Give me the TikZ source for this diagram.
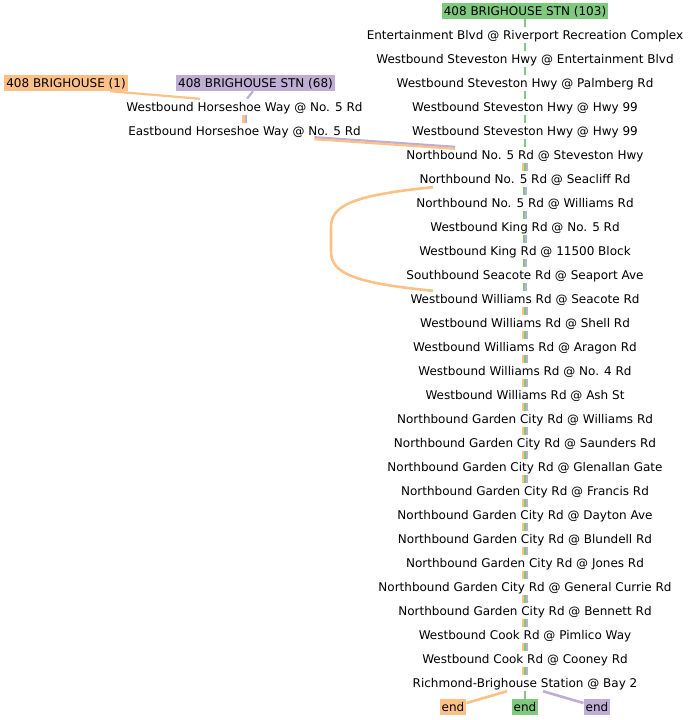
\documentclass[tikz,border=0pt]{standalone}
\usepackage{fontspec}
\setmainfont{DejaVu Sans}
\usepackage{xcolor}
\usepackage{tikz}
\usetikzlibrary{calc, positioning}

\definecolor{cam}{HTML}{FDC086}
\definecolor{xanh}{HTML}{7FC97F}
\definecolor{tim}{HTML}{BEAED4}

\begin{document}
\begin{tikzpicture}[x=1pt, y=-1pt,
    tram/.style={font=\fontsize{12}{14}\selectfont, inner xsep=2pt, inner ysep=2pt, text height=10pt, text depth=2pt},
    nhan/.style={tram, fill=#1},
    duong/.style={draw=#1, line width=2.2pt}]
    % Khung hình
    \useasboundingbox (0,0) rectangle (689,720);

    % Các bến đầu tuyến và hai trạm Horseshoe Way
    \node[nhan=xanh] (g0) at (525,11) {408 BRIGHOUSE STN (103)};
    \node[nhan=cam] (o0) at (66,83) {408 BRIGHOUSE (1)};
    \node[nhan=tim] (p0) at (255.5,83) {408 BRIGHOUSE STN (68)};
    \node[tram] (wh) at (244.5,107) {Westbound Horseshoe Way @ No. 5 Rd};
    \node[tram] (eh) at (244.5,131) {Eastbound Horseshoe Way @ No. 5 Rd};

    % Các trạm trên cột chính, cách nhau 24
    \foreach \ten [count=\i] in {Entertainment Blvd @ Riverport Recreation Complex,
        Westbound Steveston Hwy @ Entertainment Blvd, Westbound Steveston Hwy @ Palmberg Rd,
        Westbound Steveston Hwy @ Hwy 99, Westbound Steveston Hwy @ Hwy 99,
        Northbound No. 5 Rd @ Steveston Hwy, Northbound No. 5 Rd @ Seacliff Rd,
        Northbound No. 5 Rd @ Williams Rd, Westbound King Rd @ No. 5 Rd,
        Westbound King Rd @ 11500 Block, Southbound Seacote Rd @ Seaport Ave,
        Westbound Williams Rd @ Seacote Rd, Westbound Williams Rd @ Shell Rd,
        Westbound Williams Rd @ Aragon Rd, Westbound Williams Rd @ No. 4 Rd,
        Westbound Williams Rd @ Ash St, Northbound Garden City Rd @ Williams Rd,
        Northbound Garden City Rd @ Saunders Rd, Northbound Garden City Rd @ Glenallan Gate,
        Northbound Garden City Rd @ Francis Rd, Northbound Garden City Rd @ Dayton Ave,
        Northbound Garden City Rd @ Blundell Rd, Northbound Garden City Rd @ Jones Rd,
        Northbound Garden City Rd @ General Currie Rd, Northbound Garden City Rd @ Bennett Rd,
        Westbound Cook Rd @ Pimlico Way, Westbound Cook Rd @ Cooney Rd,
        Richmond-Brighouse Station @ Bay 2}
        \node[tram] (s\i) at (525,{11+24*\i}) {\ten};

    % Các điểm cuối
    \node[nhan=cam] (e1) at (453,707) {end};
    \node[nhan=xanh] (e2) at (525,707) {end};
    \node[nhan=tim] (e3) at (597,707) {end};

    % Tuyến 103 đi một mình ở đầu
    \draw[duong=xanh, line width=2.5pt] (g0) -- (s1);
    \foreach \i [count=\j from 2] in {1,...,5}
        \draw[duong=xanh, line width=2.5pt] (s\i) -- (s\j);

    % Đoạn có cả ba tuyến
    \foreach \i in {6,12,13,...,27} {
        \pgfmathtruncatemacro\j{\i+1}
        \draw[duong=cam] ([xshift=-2.1pt]s\i.south) -- ([xshift=-2.1pt]s\j.north);
        \draw[duong=xanh] (s\i.south) -- (s\j.north);
        \draw[duong=tim] ([xshift=2.1pt]s\i.south) -- ([xshift=2.1pt]s\j.north);
    }

    % Đoạn chỉ có tuyến 103 và 68
    \foreach \i [count=\j from 8] in {7,...,11} {
        \draw[duong=xanh] ([xshift=-1.2pt]s\i.south) -- ([xshift=-1.2pt]s\j.north);
        \draw[duong=tim] ([xshift=1.2pt]s\i.south) -- ([xshift=1.2pt]s\j.north);
    }

    % Tuyến 1 và 68 qua Horseshoe Way
    \draw[duong=cam] ([xshift=44pt]o0.south) -- ([xshift=-44.5pt]wh.north);
    \draw[duong=tim] ([xshift=-2.5pt]p0.south) -- ([xshift=2.5pt]wh.north);
    \draw[duong=cam] ([xshift=-1.1pt]wh.south) -- ([xshift=-1.1pt]eh.north);
    \draw[duong=tim] ([xshift=1.1pt]wh.south) -- ([xshift=1.1pt]eh.north);
    \draw[duong=tim] ([xshift=70pt, yshift=2pt]eh.south) -- ([xshift=-70pt]s6.north);
    \draw[duong=cam] ([xshift=70pt]eh.south) -- ([xshift=-70pt, yshift=-2pt]s6.north);

    % Tuyến 1 vòng qua bên trái
    \draw[duong=cam, line width=2.6pt] ([xshift=-92pt]s7.south) .. controls +(-80,8) and +(0,-22) .. ++(-102,40)
        -- ++(0,24) .. controls +(0,22) and +(-80,-8) .. ([xshift=-92pt]s12.north);

    % Nối trạm cuối với các điểm end
    \draw[duong=cam, line width=2.6pt] ([xshift=-18pt]s28.south) -- (e1);
    \draw[duong=xanh, line width=2.6pt] (s28) -- (e2);
    \draw[duong=tim, line width=2.6pt] ([xshift=18pt]s28.south) -- (e3);
\end{tikzpicture}
\end{document}
